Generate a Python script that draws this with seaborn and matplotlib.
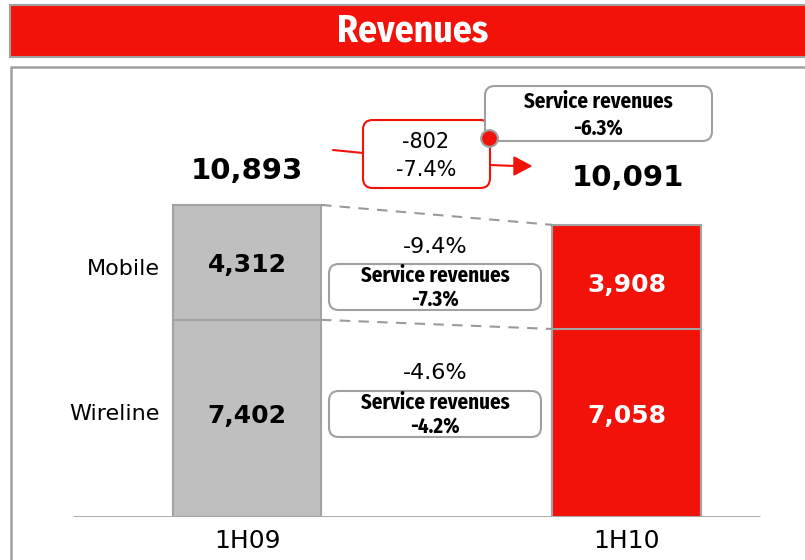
import numpy as np
import pandas as pd
import matplotlib.pyplot as plt
import seaborn as sns
from matplotlib.patches import FancyBboxPatch, Rectangle

periods = ["1H09", "1H10"]
segments = ["Mobile", "Wireline"]
mobile = [4312, 3908]
wireline = [7402, 7058]
total_labels = ["10,893", "10,091"]
segment_growth = ["-9.4%", "-4.6%"]
segment_service_growth = ["-7.3%", "-4.2%"]
total_change = ["-802", "-7.4%"]
total_service_change = "-6.3%"

RED = "#f2120a"
GREY = "#bfbfbf"
EDGE = "#a3a3a3"
NARROW = ["Fira Sans Condensed", "DejaVu Sans"]

sns.set_theme(style="white")
plt.rcParams["font.family"] = ["DejaVu Sans"]
plt.rcParams["text.color"] = "black"

W, H = 805, 560
fig = plt.figure(figsize=(W / 100, H / 100), dpi=100)


def fx(px):
    return px / W


def fy(py):
    return 1 - py / H


# title banner and frame
fig.patches.append(Rectangle((fx(10), fy(57)), fx(810) - fx(10), fy(5) - fy(57),
                             transform=fig.transFigure, facecolor=RED,
                             edgecolor="#a0a0a0", lw=1.5))
fig.text(fx(413), fy(31), "Revenues", color="white", fontsize=27,
         fontweight="bold", family=NARROW, ha="center", va="center")
fig.patches.append(Rectangle((fx(11), fy(575)), fx(805), fy(67) - fy(575),
                             transform=fig.transFigure, facecolor="none",
                             edgecolor="#a0a0a0", lw=1.8))

# chart axes: baseline at y=517px, bars 1H09 centred at 247px, 1H10 at 626px
ax = fig.add_axes([fx(10), fy(517), fx(805) - fx(10), fy(66) - fy(517)])
ax.patch.set_alpha(0)
unit = 379.5          # px per category
scale = 0.02664       # px per revenue unit

df = pd.DataFrame({"period": periods, "mobile": mobile, "wireline": wireline})
df["total"] = df["mobile"] + df["wireline"]

sns.barplot(data=df, x="period", y="total", hue="period", palette=[GREY, RED],
            saturation=1, width=0.39, edgecolor=EDGE, linewidth=1.5,
            legend=False, ax=ax)
sns.barplot(data=df, x="period", y="wireline", hue="period", palette=[GREY, RED],
            saturation=1, width=0.39, edgecolor=EDGE, linewidth=1.5,
            legend=False, ax=ax)
ax.set_xlim(-(247 - 10) / unit, 1 + (805 - 626.5) / unit)
ax.set_ylim(0, (517 - 66) / scale)
ax.axis("off")

# baseline
x0 = -(247 - 73) / unit
x1 = 1 + (760 - 626.5) / unit
ax.plot([x0, x1], [0, 0], color=EDGE, lw=2, zorder=1, solid_capstyle="butt")

hw = 0.39 / 2
# dashed connectors between segment tops
ax.plot([hw, 1 - hw], [df["total"][0], df["total"][1]], ls=(0, (5, 4)),
        color="#9a9a9a", lw=1.5)
ax.plot([hw, 1 - hw], [wireline[0], wireline[1]], ls=(0, (5, 4)),
        color="#9a9a9a", lw=1.5)

# values inside bars
for i in range(2):
    c = "black" if i == 0 else "white"
    ax.text(i, wireline[i] + mobile[i] / 2 - 80 - 220 * i, f"{mobile[i]:,}",
            ha="center", va="center", fontsize=18, fontweight="bold", color=c)
    ax.text(i, wireline[i] / 2 + 100 + 150 * i, f"{wireline[i]:,}",
            ha="center", va="center", fontsize=18, fontweight="bold", color=c)
    ax.text(i, -900, periods[i], ha="center", va="center", fontsize=18,
            color="black")

# totals
ax.text(0, df["total"][0] + 1280, total_labels[0], ha="center", va="center",
        fontsize=21, fontweight="bold")
ax.text(1.005, df["total"][0] + 1020, total_labels[1], ha="center", va="center",
        fontsize=21, fontweight="bold")

# segment names
ax.text(-hw - 0.035, wireline[0] + mobile[0] / 2 - 250, segments[0], ha="right",
        va="center", fontsize=16)
ax.text(-hw - 0.035, wireline[0] / 2 + 150, segments[1], ha="right",
        va="center", fontsize=16)


def rbox(x, y, w, h, edge, lw=1.5):
    p = FancyBboxPatch((fx(x), fy(y + h)), fx(w), fy(0) - fy(h),
                       boxstyle="round,pad=0,rounding_size=0.012",
                       transform=fig.transFigure, facecolor="white",
                       edgecolor=edge, lw=lw, mutation_aspect=W / H)
    fig.patches.append(p)


# segment growth boxes
for (gy, by), g, s in zip([(247, 264), (373, 391)], segment_growth,
                          segment_service_growth):
    fig.text(fx(435), fy(gy), g, ha="center", va="center", fontsize=16)
    rbox(329, by, 212, 46, "#a0a0a0")
    fig.text(fx(435), fy(by + 12), "Service revenues", ha="center",
             va="center", fontsize=15, fontweight="bold", family=NARROW)
    fig.text(fx(435), fy(by + 35), s, ha="center", va="center", fontsize=15,
             fontweight="bold", family=NARROW)

# total change callout
fig.add_artist(plt.Line2D([fx(333), fx(363)], [fy(150), fy(153)], color=RED,
                          lw=1.5, transform=fig.transFigure))
fig.add_artist(plt.Line2D([fx(490), fx(515)], [fy(165), fy(166)], color=RED,
                          lw=1.5, transform=fig.transFigure))
fig.add_artist(plt.Polygon([[fx(514), fy(157)], [fx(531), fy(166)],
                            [fx(514), fy(175)]], closed=True, color=RED,
                           transform=fig.transFigure))
rbox(363, 120, 127, 68, RED)
fig.text(fx(426), fy(142), total_change[0], ha="center", va="center",
         fontsize=15)
fig.text(fx(426), fy(170), total_change[1], ha="center", va="center",
         fontsize=15)

rbox(485, 86, 227, 55, "#a0a0a0")
fig.text(fx(598), fy(102), "Service revenues", ha="center", va="center",
         fontsize=15, fontweight="bold", family=NARROW)
fig.text(fx(598), fy(128), total_service_change, ha="center", va="center",
         fontsize=15, fontweight="bold", family=NARROW)
fig.add_artist(plt.Line2D([fx(489)], [fy(138)], marker="o", markersize=12,
                          markerfacecolor=RED, markeredgecolor="#a0a0a0",
                          markeredgewidth=1.5, transform=fig.transFigure))

fig.savefig("out.png", dpi=100)
